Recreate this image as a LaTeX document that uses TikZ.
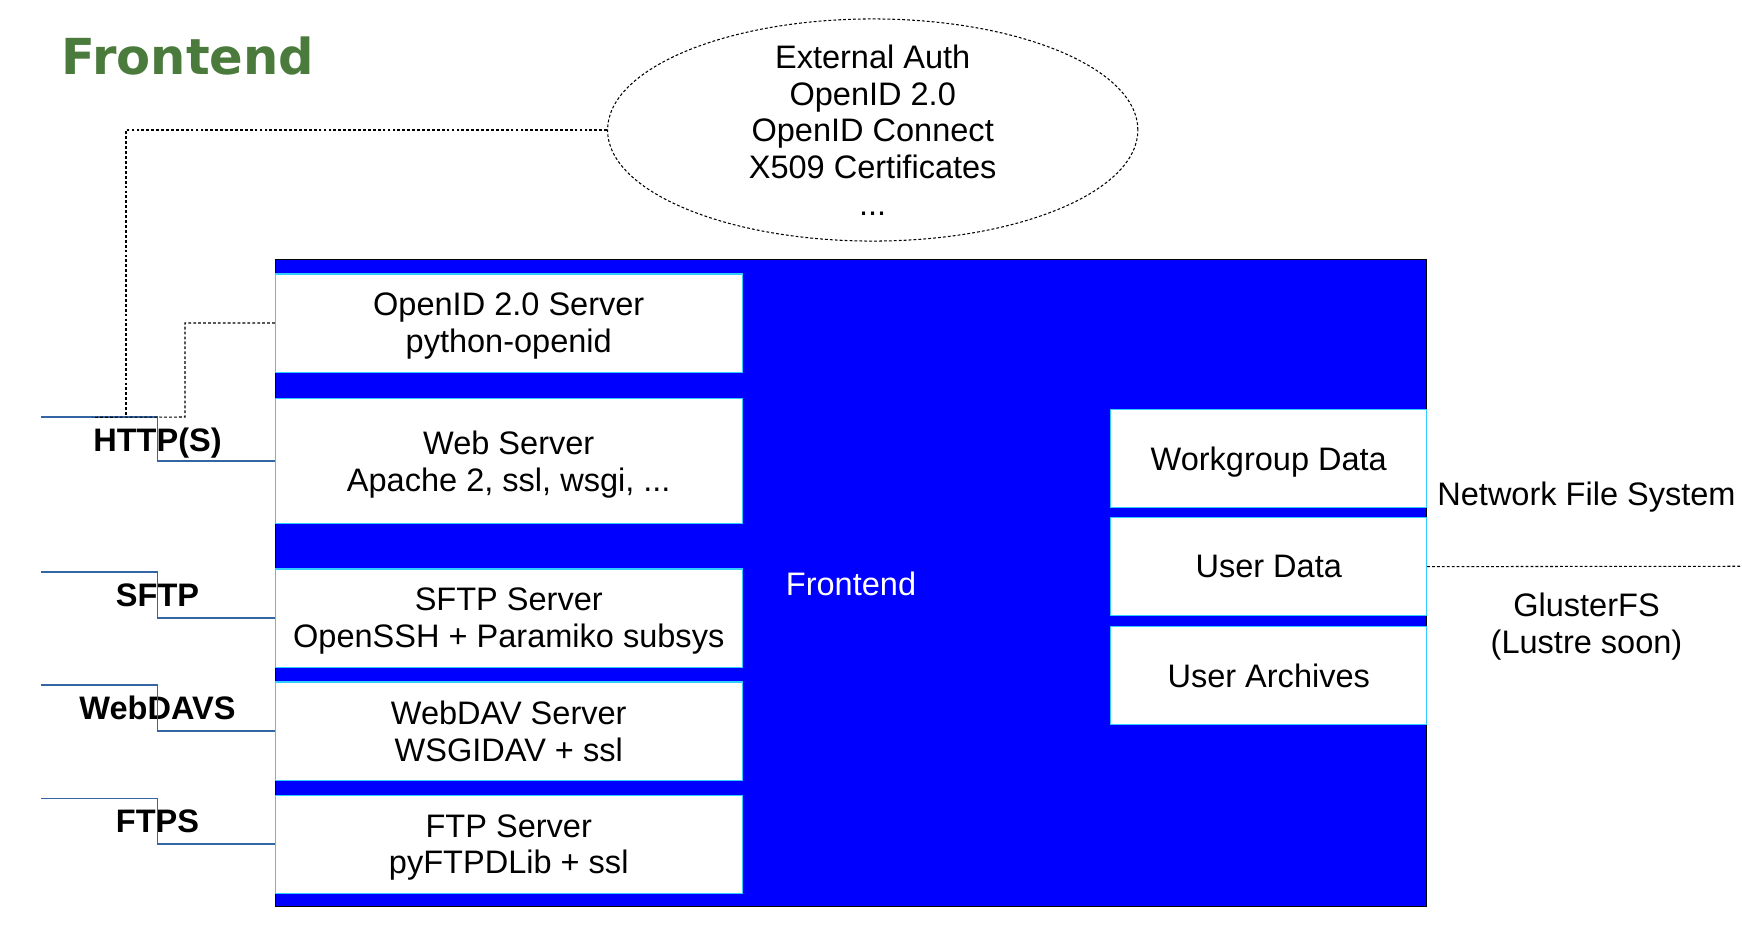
\documentclass[tikz,border=0pt]{standalone}
\usepackage{fontspec}
\setmainfont{Liberation Sans}
\newfontfamily\titlefont{DejaVu Sans}
\usepackage{tikz}
\usetikzlibrary{positioning}
\usetikzlibrary{shapes.geometric}
\usepackage{xcolor}
\definecolor{fblue}{HTML}{0000FF}
\definecolor{fcyan}{HTML}{33CCFF}
\definecolor{lblue}{HTML}{3465A4}
\definecolor{fgreen}{HTML}{4A7A3C}

\begin{document}
\begin{tikzpicture}[x=0.01cm, y=-0.01cm,
every node/.style = {font=\fontsize{9.25}{10.45}\selectfont, align=center},
low/.style = {text depth=0pt},
srv/.style = {low, draw=fcyan, fill=white, line width=0.3pt, inner sep=0pt, minimum width=4.665cm, minimum height=0.98cm},
store/.style = {srv, minimum width=3.155cm},
proto/.style = {low, font=\fontsize{9.25}{10.45}\selectfont\bfseries, inner sep=0pt, minimum height=0.44cm},
wire/.style = {draw=lblue, line width=0.45pt},
dots/.style = {draw, line width=0.3pt, dash pattern=on 0.8pt off 0.6pt}]
\fill[white] (0,0) rectangle (1742,930);
\useasboundingbox (0,0) rectangle (1742,930);

\node[anchor=base west, inner sep=0pt, text=fgreen, font=\titlefont\bfseries\fontsize{14.1}{16}\selectfont] (title) at (61,74) {Frontend};

% external auth
\node[ellipse, dots, minimum width=5.3cm, minimum height=2.22cm, inner sep=0pt] (ell) at (872.7,130) {};
\node (auth) at (ell.center) {External Auth\\OpenID 2.0\\OpenID Connect\\X509 Certificates\\...};

% frontend box
\node[low, draw=black, fill=fblue, text=white, line width=0.3pt, inner sep=0pt, minimum width=11.51cm, minimum height=6.465cm] (fe) at (851,583.25) {Frontend};

\node[srv] (oid) at (508.75,323) {OpenID 2.0 Server\\python-openid};
\node[srv, minimum height=1.24cm] (web) at (508.75,461) {Web Server\\Apache 2, ssl, wsgi, ...};
\node[srv] (sftp) at (508.75,618) {SFTP Server\\OpenSSH + Paramiko subsys};
\node[srv] (dav) at (508.75,731) {WebDAV Server\\WSGIDAV + ssl};
\node[srv] (ftp) at (508.75,844.25) {FTP Server\\pyFTPDLib + ssl};

\node[store] (wg) at (1268.75,458.5) {Workgroup Data};
\node[store, below=0.09cm of wg] (ud) {User Data};
\node[store, below=0.1cm of ud] (ua) {User Archives};

% storage side
\node[low] (nfs) at (1586.5,494) {Network File System};
\node[low] (gfs) at (1586.5,623) {GlusterFS\\(Lustre soon)};
\coordinate (edge) at (1742,566.25);
\draw[dots] (ud.east) -- (edge);

% protocols
\node[proto] (httpl) at (157.5,440) {HTTP(S)};
\node[proto] (sftpl) at (157.5,595) {SFTP};
\node[proto] (davl) at (157.5,708) {WebDAVS};
\node[proto] (ftpl) at (157.5,821) {FTPS};
\coordinate (h0) at (41,417);
\coordinate (s0) at (41,572);
\coordinate (d0) at (41,685);
\coordinate (f0) at (41,798.5);
\draw[wire] (h0) -| (httpl.center) |- (web.west);
\draw[wire] (s0) -| (sftpl.center) |- (sftp.west);
\draw[wire] (d0) -| (davl.center) |- (dav.west);
\draw[wire] (f0) -| (ftpl.center) |- (ftp.west);

% auth links
\coordinate (j1) at (126,417);
\coordinate (j2) at (185,417);
\draw[dots] (ell.west) -| (j1);
\draw[dots] (oid.west) -| (j2) -- (httpl.north west);
\end{tikzpicture}
\end{document}
